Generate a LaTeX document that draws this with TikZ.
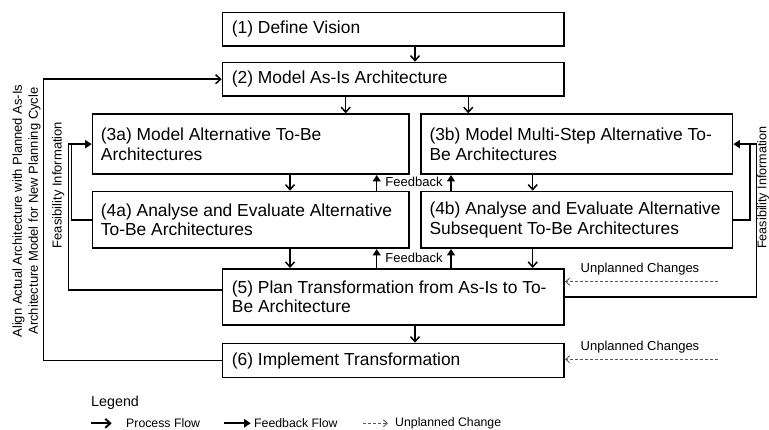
\documentclass[tikz,border=0pt]{standalone}
\usepackage{fontspec}
\setmainfont{Liberation Sans}
\usetikzlibrary{arrows.meta}
\begin{document}
\begin{tikzpicture}[x=1pt,y=-1pt,
  box/.style={draw, line width=1.7pt, anchor=north west, inner sep=0pt},
  boxtext/.style={anchor=west, align=left, inner sep=0pt, font=\fontsize{17.4}{19.5}\selectfont},
  small/.style={inner sep=0pt, font=\fontsize{13}{16}\selectfont},
  legtext/.style={anchor=west, inner sep=0pt, font=\fontsize{12.3}{14}\selectfont},
  conn/.style={line width=1.5pt},
  proc/.style={conn, -{Straight Barb[length=5pt,width=9pt]}},
  fb/.style={conn, -{Triangle[length=6.5pt,width=8pt]}},
  unpl/.style={line width=0.9pt, gray!70!black, dash pattern=on 3pt off 2pt, -{Straight Barb[length=4pt,width=7pt,line width=0.9pt]}}
]
\useasboundingbox (0,0) rectangle (769,430);

% boxes
\node[box, minimum width=341.6pt, minimum height=33.3pt] (b1) at (221.7,11.7) {};
\node[box, minimum width=341.6pt, minimum height=33.3pt] (b2) at (221.7,61.7) {};
\node[box, minimum width=316.3pt, minimum height=60pt] (b3a) at (91.7,113.3) {};
\node[box, minimum width=311.4pt, minimum height=60pt] (b3b) at (420.3,113.3) {};
\node[box, minimum width=316.3pt, minimum height=56.6pt] (b4a) at (91.7,190.7) {};
\node[box, minimum width=311.4pt, minimum height=56.6pt] (b4b) at (420.3,190.7) {};
\node[box, minimum width=341.6pt, minimum height=56.3pt] (b5) at (221.7,268) {};
\node[box, minimum width=341.6pt, minimum height=34pt] (b6) at (221.7,342.7) {};

% box texts
\node[boxtext] (t1) at ([xshift=10pt]b1.west) {(1) Define Vision};
\node[boxtext] (t2) at ([xshift=10pt]b2.west) {(2) Model As-Is Architecture};
\node[boxtext] (t3a) at ([xshift=9pt]b3a.west) {(3a) Model Alternative To-Be\\Architectures};
\node[boxtext] (t3b) at ([xshift=9pt]b3b.west) {(3b) Model Multi-Step Alternative To-\\Be Architectures};
\node[boxtext] (t4a) at ([xshift=9pt]b4a.west) {(4a) Analyse and Evaluate Alternative\\To-Be Architectures};
\node[boxtext] (t4b) at ([xshift=9pt]b4b.west) {(4b) Analyse and Evaluate Alternative\\Subsequent To-Be Architectures};
\node[boxtext] (t5) at ([xshift=10pt]b5.west) {(5) Plan Transformation from As-Is to To-\\Be Architecture};
\node[boxtext] (t6) at ([xshift=10pt]b6.west) {(6) Implement Transformation};

% column coordinates
\coordinate (c415) at (415,0);
\coordinate (c346) at (345.7,0);
\coordinate (c468) at (468.3,0);
\coordinate (c290) at (290,0);
\coordinate (c533) at (532.7,0);
\coordinate (c377) at (376.7,0);
\coordinate (c451) at (451,0);
\coordinate (L1) at (43.3,0);
\coordinate (FL1) at (68.3,0);
\coordinate (FL2) at (71.7,0);
\coordinate (FR1) at (756.5,0);
\coordinate (FR2) at (750,0);

% process flow
\draw[proc] (b1.south -| c415) -- (b2.north -| c415);
\draw[proc] (b2.south -| c346) -- (b3a.north -| c346);
\draw[proc] (b2.south -| c468) -- (b3b.north -| c468);
\draw[proc] (b3a.south -| c290) -- (b4a.north -| c290);
\draw[proc] (b4a.south -| c290) -- (b5.north -| c290);
\draw[proc] (b3b.south -| c533) -- (b4b.north -| c533);
\draw[proc] (b4b.south -| c533) -- (b5.north -| c533);
\draw[proc] (b5.south -| c415) -- (b6.north -| c415);

% feedback
\draw[fb] (b4a.north -| c377) -- (b3a.south -| c377);
\draw[fb] (b4b.north -| c451) -- (b3b.south -| c451);
\draw[fb] (b5.north -| c377) -- (b4a.south -| c377);
\draw[fb] (b5.north -| c451) -- (b4b.south -| c451);
\node[small] (fbt1) at (414,181.7) {Feedback};
\node[small] (fbt2) at (414,258.3) {Feedback};

% outer loop
\draw[proc] (b6.west) -- (b6.west -| L1) -- (b2.west -| L1) -- (b2.west);
\node[small, rotate=90, align=center] (aligntxt) at (26.5,211) {Align Actual Architecture with Planned As-Is\\Architecture Model for New Planning Cycle};

% feasibility left
\draw[conn] (b4a.west) -- (b4a.west -| FL2) -- (b3a.west -| FL2);
\draw[fb] ([yshift=7pt]b5.west) -- ([yshift=7pt]b5.west -| FL1) -- (b3a.west -| FL1) -- (b3a.west);
\node[small, rotate=90] (feasL) at (58.3,185) {Feasibility Information};

% feasibility right
\draw[conn] (b4b.east) -- (b4b.east -| FR2) -- (b3b.east -| FR2);
\draw[fb] (b5.east) -- (b5.east -| FR1) -- (b3b.east -| FR1) -- (b3b.east);
\node[inner sep=0pt, font=\fontsize{12.6}{15}\selectfont, rotate=90, anchor=base] (feasR) at (766.3,187.5) {Feasibility Information};

% unplanned changes
\coordinate (U1) at (718,281.7);
\coordinate (U2) at (718,359.3);
\draw[unpl] (U1) -- (U1 -| b5.east);
\draw[unpl] (U2) -- (U2 -| b6.east);
\node[small] (ut1) at (640,269) {Unplanned Changes};
\node[small] (ut2) at (640,346.7) {Unplanned Changes};

% legend
\node[anchor=west, inner sep=0pt, font=\fontsize{14.3}{16}\selectfont] (leg) at (91,403) {Legend};
\coordinate (lp1) at (90.7,423.3);
\coordinate (lp2) at (111.7,423.3);
\coordinate (lf1) at (224,423.3);
\coordinate (lf2) at (250.7,423.3);
\coordinate (lu1) at (363,423.3);
\coordinate (lu2) at (388,423.3);
\draw[proc, line width=1.9pt] (lp1) -- (lp2);
\draw[fb, line width=1.9pt] (lf1) -- (lf2);
\draw[unpl] (lu1) -- (lu2);
\node[legtext] (lpt) at (126,423.3) {Process Flow};
\node[legtext] (lft) at (254,423.3) {Feedback Flow};
\node[legtext] (lut) at (395,423.3) {Unplanned Change};
\end{tikzpicture}
\end{document}
